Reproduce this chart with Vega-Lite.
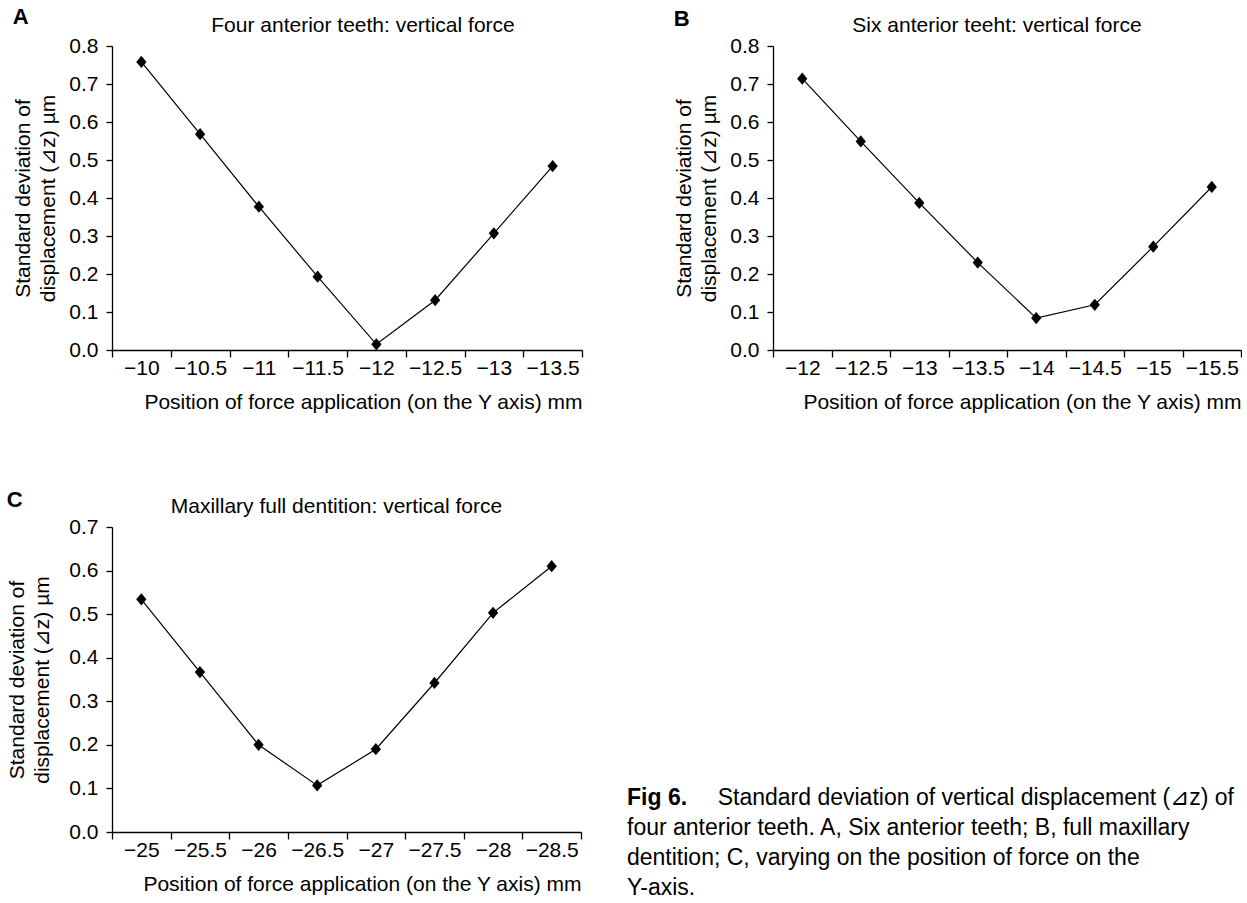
{
  "$schema": "https://vega.github.io/schema/vega-lite/v6.json",
  "background": "white",
  "padding": {"left": 6, "top": 6, "right": 0, "bottom": 0},
  "config": {
    "font": "Liberation Sans",
    "view": {"stroke": null},
    "axis": {
      "domainColor": "black", "tickColor": "black", "labelColor": "black", "titleColor": "black",
      "labelFontSize": 21, "titleFontSize": 21, "titleFontWeight": "normal",
      "labelFont": "Liberation Sans", "titleFont": "Liberation Sans",
      "grid": false, "domainWidth": 1.3, "tickWidth": 1.3
    },
    "axisX": {"tickSize": 7, "labelPadding": 0, "titlePadding": 13, "labelAngle": 0, "tickBand": "extent", "titleAnchor": "end"},
    "axisY": {"tickSize": 6, "labelPadding": 8, "titlePadding": 10, "titleLineHeight": 25, "format": ".1f"},
    "title": {"fontSize": 21, "fontWeight": "normal", "color": "black", "font": "Liberation Sans", "offset": -1}
  },
  "spacing": 77,
  "vconcat": [
    {
      "spacing": 90,
      "hconcat": [
        {
          "title": {"text": "A", "anchor": "start", "fontSize": 22, "fontWeight": "bold", "dy": 14, "offset": 0},
          "vconcat": [
            {
              "width": 470, "height": 304,
              "title": {"text": "Four anterior teeth: vertical force", "dx": 16},
              "data": {"values": [
                {"pos": "−10", "sd": 0.758}, {"pos": "−10.5", "sd": 0.568}, {"pos": "−11", "sd": 0.377},
                {"pos": "−11.5", "sd": 0.193}, {"pos": "−12", "sd": 0.015}, {"pos": "−12.5", "sd": 0.131},
                {"pos": "−13", "sd": 0.307}, {"pos": "−13.5", "sd": 0.484}
              ]},
              "encoding": {
                "x": {"field": "pos", "type": "ordinal", "sort": null, "scale": {"type": "band", "paddingInner": 0, "paddingOuter": 0}, "axis": {"title": "Position of force application (on the Y axis) mm"}},
                "y": {"field": "sd", "type": "quantitative", "scale": {"domain": [0, 0.8], "nice": false}, "axis": {"values": [0, 0.1, 0.2, 0.3, 0.4, 0.5, 0.6, 0.7, 0.8], "title": ["Standard deviation of", "displacement (⊿z) µm"]}}
              },
              "layer": [
                {"mark": {"type": "line", "color": "black", "strokeWidth": 1.2}},
                {"mark": {"type": "point", "shape": "M-0.84,0L0,-1L0.84,0L0,1Z", "filled": true, "color": "black", "opacity": 1, "size": 150}}
              ]
            }
          ]
        },
        {
          "title": {"text": "B", "anchor": "start", "fontSize": 22, "fontWeight": "bold", "dy": 16, "offset": 0},
          "vconcat": [
            {
              "width": 468, "height": 304,
              "title": {"text": "Six anterior teeht: vertical force", "dx": -10},
              "data": {"values": [
                {"pos": "−12", "sd": 0.714}, {"pos": "−12.5", "sd": 0.549}, {"pos": "−13", "sd": 0.387},
                {"pos": "−13.5", "sd": 0.230}, {"pos": "−14", "sd": 0.084}, {"pos": "−14.5", "sd": 0.119},
                {"pos": "−15", "sd": 0.272}, {"pos": "−15.5", "sd": 0.429}
              ]},
              "encoding": {
                "x": {"field": "pos", "type": "ordinal", "sort": null, "scale": {"type": "band", "paddingInner": 0, "paddingOuter": 0}, "axis": {"title": "Position of force application (on the Y axis) mm"}},
                "y": {"field": "sd", "type": "quantitative", "scale": {"domain": [0, 0.8], "nice": false}, "axis": {"values": [0, 0.1, 0.2, 0.3, 0.4, 0.5, 0.6, 0.7, 0.8], "title": ["Standard deviation of", "displacement (⊿z) µm"]}}
              },
              "layer": [
                {"mark": {"type": "line", "color": "black", "strokeWidth": 1.2}},
                {"mark": {"type": "point", "shape": "M-0.84,0L0,-1L0.84,0L0,1Z", "filled": true, "color": "black", "opacity": 1, "size": 150}}
              ]
            }
          ]
        }
      ]
    },
    {
      "spacing": 45,
      "hconcat": [
        {
          "title": {"text": "C", "anchor": "start", "fontSize": 22, "fontWeight": "bold", "dy": 16, "offset": 0},
          "vconcat": [
            {
              "width": 469, "height": 305,
              "title": {"text": "Maxillary full dentition: vertical force", "dx": -10},
              "data": {"values": [
                {"pos": "−25", "sd": 0.534}, {"pos": "−25.5", "sd": 0.367}, {"pos": "−26", "sd": 0.200},
                {"pos": "−26.5", "sd": 0.107}, {"pos": "−27", "sd": 0.190}, {"pos": "−27.5", "sd": 0.342},
                {"pos": "−28", "sd": 0.503}, {"pos": "−28.5", "sd": 0.610}
              ]},
              "encoding": {
                "x": {"field": "pos", "type": "ordinal", "sort": null, "scale": {"type": "band", "paddingInner": 0, "paddingOuter": 0}, "axis": {"title": "Position of force application (on the Y axis) mm"}},
                "y": {"field": "sd", "type": "quantitative", "scale": {"domain": [0, 0.7], "nice": false}, "axis": {"values": [0, 0.1, 0.2, 0.3, 0.4, 0.5, 0.6, 0.7], "titlePadding": 16, "title": ["Standard deviation of", "displacement (⊿z) µm"]}}
              },
              "layer": [
                {"mark": {"type": "line", "color": "black", "strokeWidth": 1.2}},
                {"mark": {"type": "point", "shape": "M-0.84,0L0,-1L0.84,0L0,1Z", "filled": true, "color": "black", "opacity": 1, "size": 150}}
              ]
            }
          ]
        },
        {
          "width": 607, "height": 375,
          "data": {"values": [
            {"line": 1, "part": "start", "role": "label", "txt": "Fig 6."},
            {"line": 1, "part": "end", "role": "body", "txt": "Standard deviation of vertical displacement (⊿z) of"},
            {"line": 2, "part": "start", "role": "body", "txt": "four anterior teeth. A, Six anterior teeth; B, full maxillary"},
            {"line": 3, "part": "start", "role": "body", "txt": "dentition; C, varying on the position of force on the"},
            {"line": 4, "part": "start", "role": "body", "txt": "Y-axis."}
          ]},
          "encoding": {
            "x": {"field": "part", "type": "nominal", "scale": {"type": "point", "domain": ["start", "end"], "padding": 0}, "axis": null},
            "y": {"field": "line", "type": "quantitative", "scale": {"domain": [-8.267, 4.233], "reverse": true, "nice": false, "zero": false}, "axis": null},
            "text": {"field": "txt"}
          },
          "layer": [
            {"transform": [{"filter": "datum.part === 'start' && datum.role === 'label'"}], "mark": {"type": "text", "align": "left", "baseline": "alphabetic", "fontSize": 23, "fontWeight": "bold", "color": "black"}},
            {"transform": [{"filter": "datum.part === 'start' && datum.role === 'body'"}], "mark": {"type": "text", "align": "left", "baseline": "alphabetic", "fontSize": 23, "color": "black"}},
            {"transform": [{"filter": "datum.part === 'end'"}], "mark": {"type": "text", "align": "right", "baseline": "alphabetic", "fontSize": 23, "color": "black"}}
          ]
        }
      ]
    }
  ]
}
